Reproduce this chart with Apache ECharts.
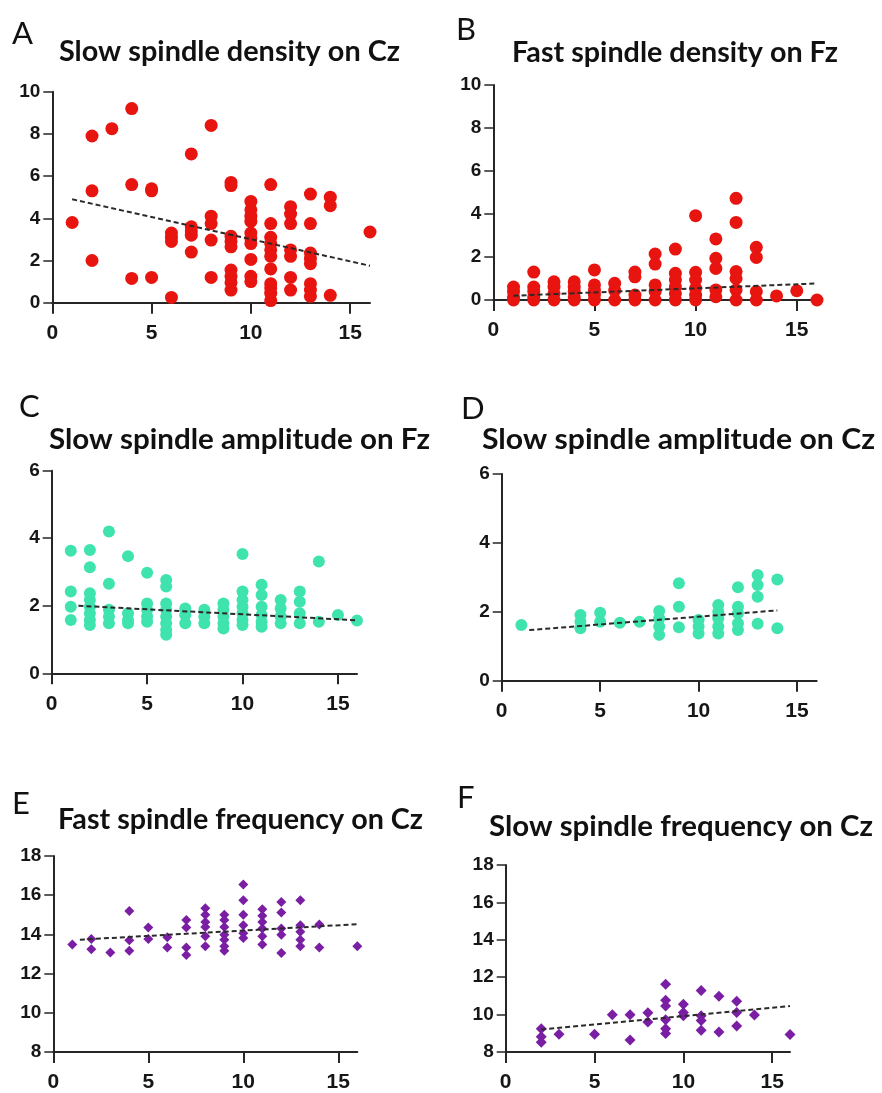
<!DOCTYPE html>
<html>
<head>
<meta charset="utf-8">
<script src="https://cdn.jsdelivr.net/npm/echarts@6/dist/echarts.min.js"></script>
<style>
html,body{margin:0;padding:0;background:#fff;}
#chart{width:882px;height:1093px;}
</style>
</head>
<body>
<div id="chart"></div>
<script>
// ---------- DATA ----------
const panelLetters = ['A','B','C','D','E','F'];
const panelTitles = [
  'Slow spindle density on Cz',
  'Fast spindle density on Fz',
  'Slow spindle amplitude on Fz',
  'Slow spindle amplitude on Cz',
  'Fast spindle frequency on Cz',
  'Slow spindle frequency on Cz'
];
const xTicks = [0, 5, 10, 15];
const yTicksDensity = [0, 2, 4, 6, 8, 10];
const yTicksAmplitude = [0, 2, 4, 6];
const yTicksFrequency = [8, 10, 12, 14, 16, 18];

const slowDensityCz = [
  [1,3.8],
  [2,7.9],[2,5.3],[2,2.0],
  [3,8.25],
  [4,9.2],[4,5.6],[4,1.15],
  [5,5.4],[5,5.3],[5,1.2],
  [6,3.3],[6,3.1],[6,2.9],[6,0.25],
  [7,7.05],[7,3.6],[7,3.4],[7,3.2],[7,2.4],
  [8,8.4],[8,4.1],[8,3.75],[8,2.97],[8,1.2],
  [9,5.7],[9,5.55],[9,3.15],[9,2.9],[9,2.65],[9,1.55],[9,1.25],[9,0.95],[9,0.6],
  [10,4.8],[10,4.4],[10,4.1],[10,3.85],[10,3.3],[10,3.05],[10,2.8],[10,2.05],[10,1.25],[10,1.0],
  [11,5.6],[11,3.75],[11,3.1],[11,2.8],[11,2.5],[11,2.2],[11,1.6],[11,0.9],[11,0.7],[11,0.45],[11,0.1],
  [12,4.55],[12,4.2],[12,3.75],[12,2.5],[12,2.2],[12,1.2],[12,0.6],
  [13,5.15],[13,3.75],[13,2.35],[13,2.1],[13,1.85],[13,0.9],[13,0.6],[13,0.3],
  [14,5.0],[14,4.6],[14,0.35],
  [16,3.35]
];
const fastDensityFz = [
  [1,0.6],[1,0.4],[1,0.15],[1,0],
  [2,1.3],[2,0.6],[2,0.4],[2,0.15],[2,0],
  [3,0.85],[3,0.6],[3,0.3],[3,0],
  [4,0.85],[4,0.6],[4,0.4],[4,0.15],[4,0],
  [5,1.4],[5,0.7],[5,0.45],[5,0.23],[5,0],
  [6,0.78],[6,0.45],[6,0],
  [7,1.3],[7,1.08],[7,0.23],[7,0],
  [8,2.14],[8,1.67],[8,0.7],[8,0.4],[8,0],
  [9,2.37],[9,1.24],[9,0.93],[9,0.62],[9,0.3],[9,0],
  [10,3.92],[10,1.29],[10,0.93],[10,0.54],[10,0.23],[10,0],
  [11,2.84],[11,1.94],[11,1.47],[11,0.47],[11,0.15],
  [12,4.73],[12,3.61],[12,1.32],[12,1.0],[12,0.47],[12,0],
  [13,2.45],[13,1.98],[13,0.39],[13,0],
  [14,0.19],
  [15,0.43],
  [16,0]
];
const slowAmplitudeFz = [
  [1,3.63],[1,2.42],[1,1.97],[1,1.58],
  [2,3.65],[2,3.14],[2,2.37],[2,2.17],[2,1.97],[2,1.78],[2,1.58],[2,1.43],
  [3,4.2],[3,2.65],[3,1.88],[3,1.68],[3,1.48],
  [4,3.47],[4,1.78],[4,1.58],[4,1.48],
  [5,2.98],[5,2.07],[5,1.88],[5,1.68],[5,1.53],
  [6,2.76],[6,2.57],[6,2.07],[6,1.88],[6,1.68],[6,1.48],[6,1.28],[6,1.14],
  [7,1.92],[7,1.73],[7,1.48],
  [8,1.88],[8,1.68],[8,1.48],
  [9,2.07],[9,1.88],[9,1.68],[9,1.48],[9,1.33],
  [10,3.53],[10,2.42],[10,2.17],[10,1.97],[10,1.78],[10,1.58],[10,1.43],
  [11,2.62],[11,2.32],[11,1.97],[11,1.73],[11,1.53],[11,1.38],
  [12,2.17],[12,1.92],[12,1.68],[12,1.48],
  [13,2.42],[13,2.12],[13,1.78],[13,1.48],
  [14,3.31],[14,1.53],
  [15,1.73],
  [16,1.56]
];
const slowAmplitudeCz = [
  [1,1.62],
  [4,1.91],[4,1.71],[4,1.52],
  [5,1.97],[5,1.71],
  [6,1.68],
  [7,1.71],
  [8,2.02],[8,1.81],[8,1.57],[8,1.33],
  [9,2.83],[9,2.15],[9,1.55],
  [10,1.76],[10,1.57],[10,1.37],
  [11,2.2],[11,2.0],[11,1.81],[11,1.57],[11,1.37],
  [12,2.71],[12,2.15],[12,1.96],[12,1.67],[12,1.47],
  [13,3.07],[13,2.78],[13,2.44],[13,1.65],
  [14,2.94],[14,1.52]
];
const fastFrequencyCz = [
  [1,13.49],
  [2,13.77],[2,13.24],
  [3,13.08],
  [4,15.2],[4,13.7],[4,13.16],
  [5,14.35],[5,13.77],
  [6,13.86],[6,13.33],
  [7,14.74],[7,14.35],[7,13.33],[7,12.95],
  [8,15.33],[8,15.0],[8,14.63],[8,14.38],[8,13.9],[8,13.4],
  [9,15.0],[9,14.74],[9,14.38],[9,13.98],[9,13.73],[9,13.4],[9,13.16],
  [10,16.55],[10,15.74],[10,15.0],[10,14.47],[10,14.06],[10,13.81],
  [11,15.28],[11,14.95],[11,14.63],[11,14.3],[11,13.9],[11,13.49],
  [12,15.65],[12,15.12],[12,14.3],[12,13.98],[12,13.05],
  [13,15.74],[13,14.47],[13,14.14],[13,13.73],[13,13.4],
  [14,14.51],[14,13.33],
  [16,13.4]
];
const slowFrequencyCz = [
  [2,9.25],[2,8.81],[2,8.52],
  [3,8.95],
  [5,8.95],
  [6,9.99],
  [7,9.99],[7,8.64],
  [8,10.1],[8,9.6],
  [9,11.62],[9,10.77],[9,10.46],[9,9.73],[9,9.25],[9,8.99],
  [10,10.55],[10,10.11],[10,9.94],
  [11,11.29],[11,9.94],[11,9.68],[11,9.16],
  [12,10.98],[12,9.07],
  [13,10.72],[13,10.11],[13,9.39],
  [14,9.98],
  [16,8.94]
];
// dashed trend lines (endpoints)
const trendA = [[1,4.9],[16,1.75]];
const trendB = [[1,0.2],[16,0.77]];
const trendC = [[1.4,2.0],[16,1.57]];
const trendD = [[1.4,1.47],[14,2.04]];
const trendE = [[1.4,13.73],[16,14.52]];
const trendF = [[2,9.2],[16,10.46]];

// ---------- LAYOUT / STYLE ----------
const RED = '#e8140f', TEAL = '#3fe3ae', PURPLE = '#7a1ea3';
const panels = [
  {data: slowDensityCz, trend: trendA, color: RED, symbol: 'circle', size: 13, yTicks: yTicksDensity,
   grid: {left: 52.3, top: 91.7, width: 317.7, height: 211},
   letter: {x: 12, y: 34}, title: {x: 59, w: 341, y: 52}},
  {data: fastDensityFz, trend: trendB, color: RED, symbol: 'circle', size: 13, yTicks: yTicksDensity,
   grid: {left: 493.3, top: 85, width: 323.7, height: 215},
   letter: {x: 456, y: 30}, title: {x: 512, w: 326, y: 52.7}},
  {data: slowAmplitudeFz, trend: trendC, color: TEAL, symbol: 'circle', size: 12, yTicks: yTicksAmplitude,
   grid: {left: 51.7, top: 470.7, width: 305.3, height: 202.6},
   letter: {x: 19, y: 407}, title: {x: 49, w: 381, y: 440}},
  {data: slowAmplitudeCz, trend: trendD, color: TEAL, symbol: 'circle', size: 12, yTicks: yTicksAmplitude,
   grid: {left: 501.7, top: 474, width: 315, height: 206.7},
   letter: {x: 461, y: 409}, title: {x: 482, w: 393, y: 440}},
  {data: fastFrequencyCz, trend: trendE, color: PURPLE, symbol: 'diamond', size: 10, yTicks: yTicksFrequency,
   grid: {left: 53.3, top: 856, width: 304, height: 204.7},
   letter: {x: 12, y: 804}, title: {x: 58, w: 365, y: 820}},
  {data: slowFrequencyCz, trend: trendF, color: PURPLE, symbol: 'diamond', size: 11, yTicks: yTicksFrequency,
   grid: {left: 505.7, top: 865, width: 284.3, height: 192.3},
   letter: {x: 457, y: 798}, title: {x: 489, w: 384, y: 826.5}}
];

const TITLE_FONT = 'Lato';
const LABEL_FONT = 'Liberation Sans';
const measureCtx = document.createElement('canvas').getContext('2d');
function widthOf(text, font) { measureCtx.font = font; return measureCtx.measureText(text).width; }

const AXIS_COLOR = '#262626';
const grids = [], xAxes = [], yAxes = [], series = [], graphics = [];
panels.forEach((p, i) => {
  grids.push(Object.assign({containLabel: false}, p.grid));
  xAxes.push({
    type: 'value', gridIndex: i, min: 0, max: 16,
    axisLine: {show: true, onZero: false, lineStyle: {color: AXIS_COLOR, width: 2}},
    axisTick: {show: true, length: 11, customValues: xTicks, lineStyle: {color: AXIS_COLOR, width: 2}},
    axisLabel: {customValues: xTicks, margin: 20, fontSize: 21, fontWeight: 'bold',
      fontFamily: LABEL_FONT, color: '#161616'},
    splitLine: {show: false}
  });
  const yMin = p.yTicks[0], yMax = p.yTicks[p.yTicks.length - 1];
  yAxes.push({
    type: 'value', gridIndex: i, min: yMin, max: yMax, interval: 2,
    axisLine: {show: true, onZero: false, lineStyle: {color: AXIS_COLOR, width: 2}},
    axisTick: {show: true, length: 9, lineStyle: {color: AXIS_COLOR, width: 1.5}},
    axisLabel: {margin: 12, fontSize: 19, fontWeight: 'bold',
      fontFamily: LABEL_FONT, color: '#161616'},
    splitLine: {show: false}
  });
  series.push({
    type: 'scatter', xAxisIndex: i, yAxisIndex: i, data: p.data,
    symbol: p.symbol, symbolSize: p.size, itemStyle: {color: p.color, opacity: 1},
    z: 2, animation: false
  });
  series.push({
    type: 'line', xAxisIndex: i, yAxisIndex: i, data: p.trend, symbol: 'none',
    lineStyle: {color: '#2a2a2a', width: 2, type: [5, 3]}, z: 3, animation: false
  });
  graphics.push({
    type: 'text', x: p.letter.x, y: p.letter.y,
    style: {text: panelLetters[i], fontSize: 31, fontFamily: TITLE_FONT, fontWeight: 'normal',
      fill: '#111', align: 'left', verticalAlign: 'middle'}
  });
  const font = 'bold 28px ' + TITLE_FONT;
  const s = p.title.w / widthOf(panelTitles[i], font);
  graphics.push({
    type: 'text', x: p.title.x, y: p.title.y, scaleX: s,
    style: {text: panelTitles[i], fontSize: 28, fontFamily: TITLE_FONT, fontWeight: 'bold',
      fill: '#111', align: 'left', verticalAlign: 'middle'}
  });
});

const chart = echarts.init(document.getElementById('chart'), null, {renderer: 'canvas'});
chart.setOption({
  backgroundColor: '#ffffff',
  animation: false,
  grid: grids, xAxis: xAxes, yAxis: yAxes, series: series,
  graphic: graphics
});
</script>
</body>
</html>
